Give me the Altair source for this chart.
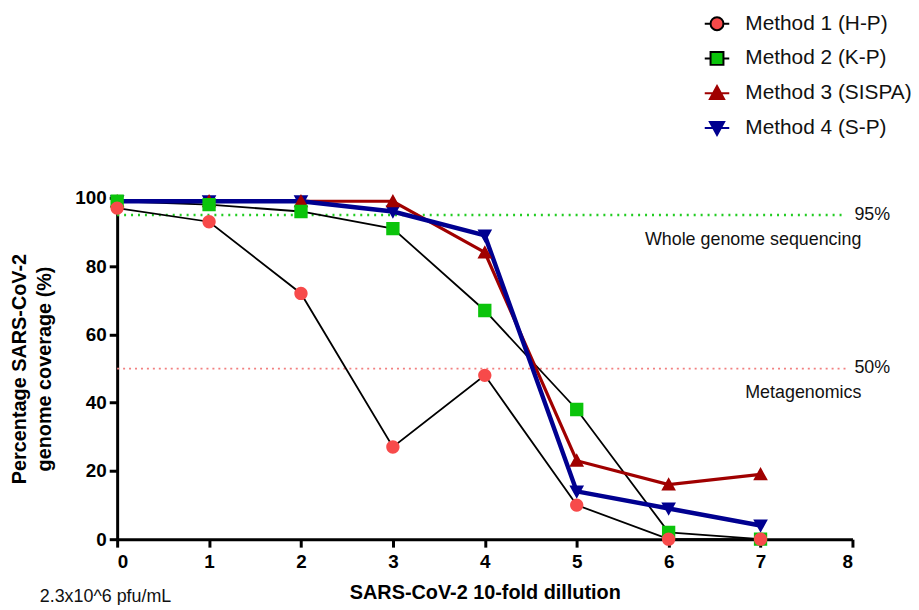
import altair as alt
import pandas as pd

# ---- data ----
dilution = [0, 1, 2, 3, 4, 5, 6, 7]
methods = ["Method 1 (H-P)", "Method 2 (K-P)", "Method 3 (SISPA)", "Method 4 (S-P)"]
m1 = [97, 93, 72, 27, 48, 10, 0, 0]
m2 = [99, 98, 96, 91, 67, 38, 2, 0]
m3 = [99, 99, 99, 99, 84, 23, 16, 19]
m4 = [99, 99, 99, 96, 89, 14, 9, 4]

ref_values = [95, 50]
ref_labels = ["95%", "50%"]
ref_sublabels = ["Whole genome sequencing", "Metagenomics"]
ref_x_start = 0
ref_x_end = 7.93
label_x = 8
note = "2.3x10^6 pfu/mL"

# ---- styles ----
marker_colors = ["#F74A4A", "#0BC40B", "#A00000", "#000090"]
line_colors = ["#000000", "#000000", "#A00000", "#000090"]
shapes = [
    "M-1.9,0H-1 M1,0H1.9 M-1,0A1,1 0 1,1 1,0A1,1 0 1,1 -1,0Z",
    "M-1.9,0H-1 M1,0H1.9 M-1,-1H1V1H-1Z",
    "M-1.9,0H1.9 M0,-1.1L1.1,0.9H-1.1Z",
    "M-1.9,0H1.9 M0,1.1L1.1,-0.9H-1.1Z",
]
FONT = "Liberation Sans"

rows = []
for name, vals in zip(methods, [m1, m2, m3, m4]):
    for d, v in zip(dilution, vals):
        rows.append({"method": name, "dilution": d, "coverage": v})
df = pd.DataFrame(rows)
# markers of Method 1 are drawn last (on top), as in the reference
df_points = df.iloc[::-1].reset_index(drop=True)

x_enc = alt.X(
    "dilution:Q",
    scale=alt.Scale(domain=[0, 8], nice=False, zero=True),
    axis=alt.Axis(
        values=list(range(0, 9)),
        format="d",
        title="SARS-CoV-2 10-fold dillution",
        labelPadding=6,
        titlePadding=11,
    ),
)
y_enc = alt.Y(
    "coverage:Q",
    scale=alt.Scale(domain=[0, 100], nice=False),
    axis=alt.Axis(
        values=[0, 20, 40, 60, 80, 100],
        title=["Percentage SARS-CoV-2", "genome coverage (%)"],
        labelPadding=3,
        titlePadding=20,
        titleLineHeight=26,
    ),
)
stroke_enc = alt.Stroke("method:N", scale=alt.Scale(domain=methods, range=line_colors), title=None)


def line_layer(names, width, with_axes=False):
    base = alt.Chart(df).transform_filter(alt.FieldOneOfPredicate(field="method", oneOf=names))
    return base.mark_line(strokeWidth=width).encode(
        x=x_enc if with_axes else alt.X("dilution:Q"),
        y=y_enc if with_axes else alt.Y("coverage:Q"),
        stroke=stroke_enc,
        order=alt.Order("dilution:Q"),
    )


lines_thin = line_layer(methods[:2], 1.8, with_axes=True)
line_m3 = line_layer([methods[2]], 3.2)
line_m4 = line_layer([methods[3]], 4.5)

points = alt.Chart(df_points).mark_point(filled=True, size=180, opacity=1).encode(
    x="dilution:Q",
    y="coverage:Q",
    fill=alt.Fill("method:N", scale=alt.Scale(domain=methods, range=marker_colors), title=None),
    shape=alt.Shape("method:N", scale=alt.Scale(domain=methods, range=shapes), title=None),
)

ref95 = pd.DataFrame({"x0": [ref_x_start], "x1": [ref_x_end], "y": [ref_values[0]],
                      "label": [ref_labels[0]], "sub": [ref_sublabels[0]], "lx": [label_x]})
ref50 = pd.DataFrame({"x0": [ref_x_start], "x1": [ref_x_end], "y": [ref_values[1]],
                      "label": [ref_labels[1]], "sub": [ref_sublabels[1]], "lx": [label_x]})

rule95 = alt.Chart(ref95).mark_rule(color="#22CC22", strokeWidth=2.5, strokeDash=[2, 5]).encode(
    x="x0:Q", x2="x1:Q", y="y:Q")
rule50 = alt.Chart(ref50).mark_rule(color="#F28080", strokeWidth=1.8, strokeDash=[2, 4]).encode(
    x="x0:Q", x2="x1:Q", y="y:Q")

refs = pd.concat([ref95, ref50])
pct_text = alt.Chart(refs).mark_text(align="left", baseline="middle", dx=2, fontSize=18,
                                     font=FONT, color="#111111").encode(
    x="lx:Q", y="y:Q", text="label:N")
sub_text = alt.Chart(refs).mark_text(align="right", baseline="middle", dx=9, dy=25, fontSize=18,
                                     font=FONT, color="#111111").encode(
    x="lx:Q", y="y:Q", text="sub:N")

note_text = alt.Chart(pd.DataFrame({"t": [note]})).mark_text(
    align="left", baseline="middle", fontSize=18, font=FONT, color="#111111").encode(
    text="t:N", x=alt.value(-78), y=alt.value(402))

chart = alt.layer(rule95, rule50, lines_thin, line_m3, line_m4, points,
                  pct_text, sub_text, note_text).properties(
    width=741,
    height=344,
    autosize=alt.AutoSizeParams(type="none"),
    padding={"left": 110, "top": 189, "right": 59, "bottom": 64},
).configure_view(stroke=None).configure_axis(
    domainColor="black",
    domainWidth=3,
    tickColor="black",
    tickWidth=3,
    tickSize=8,
    grid=False,
    labelFont=FONT,
    labelFontWeight="bold",
    labelFontSize=19,
    labelColor="black",
    titleFont=FONT,
    titleFontWeight="bold",
    titleFontSize=20,
    titleColor="black",
).configure_legend(
    orient="none",
    legendX=594,
    legendY=-186,
    padding=0,
    labelFont=FONT,
    labelFontSize=21,
    labelColor="#111111",
    labelOffset=18,
    symbolSize=169,
    symbolStrokeWidth=2,
    rowPadding=13,
    labelLimit=400,
)

chart.save("out.html", embed_options={"renderer": "svg", "actions": False})
